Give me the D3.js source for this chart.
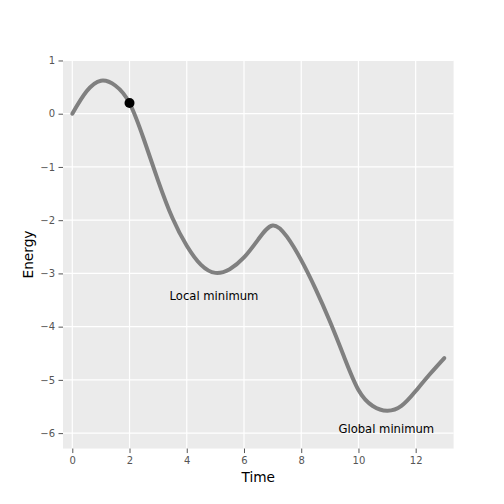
<!DOCTYPE html>
<html>
<head>
<meta charset="utf-8">
<script src="https://cdn.jsdelivr.net/npm/d3@7"></script>
<style>
  html, body { margin: 0; padding: 0; background: #ffffff; }
  svg { display: block; font-family: "DejaVu Sans", sans-serif; }
</style>
</head>
<body>
<svg id="chart" width="504" height="504"></svg>
<script>
// ---- data ----
const times  = [0, 0.5, 1, 1.5, 2, 2.5, 3, 3.5, 4, 4.5, 5, 5.5, 6, 6.5, 7, 7.5, 8, 8.5, 9, 9.5, 10, 10.5, 11, 11.5, 12, 12.5, 13];
const energy = [0, 0.42, 0.62, 0.53, 0.20, -0.48, -1.26, -1.96, -2.48, -2.84, -2.99, -2.92, -2.70, -2.36, -2.10, -2.31, -2.75, -3.29, -3.90, -4.57, -5.19, -5.49, -5.58, -5.49, -5.21, -4.89, -4.59];
const markerPoint = [2, 0.20];
const xTicks = [0, 2, 4, 6, 8, 10, 12];
const yTicks = [-6, -5, -4, -3, -2, -1, 0, 1];
const annotations = [
  { text: "Local minimum", x: 3.4, y: -3.5 },
  { text: "Global minimum", x: 9.3, y: -6.0 }
];
const xLabel = "Time";
const yLabel = "Energy";

// ---- layout ----
const padL = 63, padR = 453.6, padT = 60.48, padB = 448.56;

const x = d3.scaleLinear().domain([-0.325, 13.325]).range([padL, padR]);
const y = d3.scaleLinear().domain([-6.29, 1.0]).range([padB, padT]);

const svg = d3.select("#chart");

// panel background
svg.append("rect")
  .attr("x", padL).attr("y", padT)
  .attr("width", padR - padL).attr("height", padB - padT)
  .attr("fill", "#EBEBEB");

// grid
const grid = svg.append("g");
grid.selectAll(".vx").data(xTicks).enter().append("line")
  .attr("x1", d => x(d)).attr("x2", d => x(d))
  .attr("y1", padT).attr("y2", padB)
  .attr("stroke", "#ffffff").attr("stroke-width", 1.2);
grid.selectAll(".hy").data(yTicks).enter().append("line")
  .attr("y1", d => y(d)).attr("y2", d => y(d))
  .attr("x1", padL).attr("x2", padR)
  .attr("stroke", "#ffffff").attr("stroke-width", 1.2);

// axes
const xAxis = d3.axisBottom(x).tickValues(xTicks).tickSizeInner(4.5).tickSizeOuter(0).tickPadding(3.5).tickFormat(d3.format("d"));
const yAxis = d3.axisLeft(y).tickValues(yTicks).tickSizeInner(4.5).tickSizeOuter(0).tickPadding(3.5).tickFormat(d3.format("d"));

const gx = svg.append("g").attr("transform", `translate(0,${padB})`).call(xAxis);
const gy = svg.append("g").attr("transform", `translate(${padL},0)`).call(yAxis);
[gx, gy].forEach(g => {
  g.select(".domain").remove();
  g.selectAll(".tick line").attr("stroke", "#555555").attr("stroke-width", 1);
  g.selectAll(".tick text").attr("fill", "#555555")
    .style("font-family", "DejaVu Sans, sans-serif").style("font-size", "10px");
});

// axis labels
svg.append("text")
  .attr("x", (padL + padR) / 2).attr("y", 481.5)
  .attr("text-anchor", "middle")
  .style("font-size", "13.7px").attr("fill", "#000000")
  .text(xLabel);
svg.append("text")
  .attr("transform", `translate(33,${(padT + padB) / 2}) rotate(-90)`)
  .attr("text-anchor", "middle")
  .style("font-size", "13.7px").attr("fill", "#000000")
  .text(yLabel);

// curve
const pts = times.map((t, i) => [t, energy[i]]);
const line = d3.line().x(d => x(d[0])).y(d => y(d[1])).curve(d3.curveNatural);
svg.append("path")
  .datum(pts)
  .attr("d", line)
  .attr("fill", "none")
  .attr("stroke", "#808080")
  .attr("stroke-width", 4)
  .attr("stroke-linecap", "round")
  .attr("stroke-linejoin", "round");

// marker
svg.append("circle")
  .attr("cx", x(markerPoint[0])).attr("cy", y(markerPoint[1]))
  .attr("r", 5).attr("fill", "#000000");

// annotations
svg.selectAll(".ann").data(annotations).enter().append("text")
  .attr("x", d => x(d.x)).attr("y", d => y(d.y))
  .style("font-size", "11.6px").attr("fill", "#000000")
  .text(d => d.text);
</script>
</body>
</html>
